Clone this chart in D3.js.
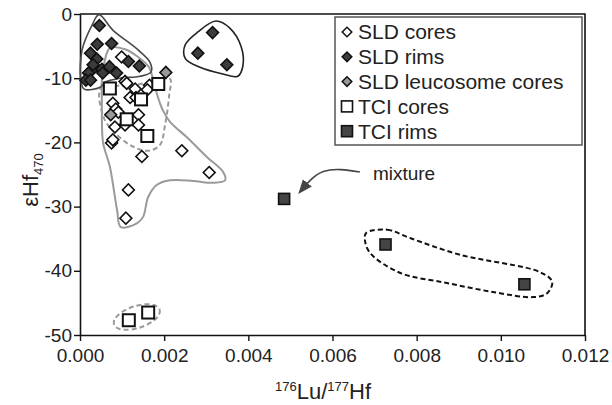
<!DOCTYPE html>
<html>
<head>
<meta charset="utf-8">
<script src="https://cdn.jsdelivr.net/npm/d3@7"></script>
<style>
  body { margin: 0; background: #fff; }
  svg text { font-family: "Liberation Sans", Arial, sans-serif; fill: #222; }
</style>
</head>
<body>
<svg id="chart" width="612" height="405"></svg>
<script>
// ---- data (x = 176Lu/177Hf, y = eHf470)
var xTicks = [0, 0.002, 0.004, 0.006, 0.008, 0.010, 0.012];
var yTicks = [0, -10, -20, -30, -40, -50];

var sldCores = [
  [0.00099, -6.7], [0.00107, -10.5], [0.00111, -10.8], [0.00131, -11.7], [0.00119, -13.0],
  [0.00078, -13.9], [0.00133, -13.0], [0.00165, -11.1], [0.0016, -11.8], [0.00085, -14.8],
  [0.00091, -15.3], [0.00139, -15.7], [0.00139, -17.3], [0.00083, -17.6], [0.00107, -17.3],
  [0.00075, -20.1], [0.00078, -19.6], [0.00147, -22.2], [0.00242, -21.3], [0.00307, -24.7],
  [0.00115, -27.4], [0.00109, -31.8]
];
var sldRims = [
  [0.00046, -1.8], [0.00041, -4.7], [0.00075, -4.6], [0.00025, -6.1], [0.0004, -7.0],
  [0.00115, -7.4], [0.00141, -8.1], [0.0003, -8.6], [0.00052, -8.6], [0.0007, -8.2],
  [0.00087, -9.2], [0.0002, -9.2], [0.00014, -10.3], [0.00025, -10.3], [0.00054, -9.2],
  [0.00031, -7.9], [0.00315, -2.9], [0.0028, -6.1], [0.00349, -7.9]
];
var sldLeuco = [[0.00204, -9.1], [0.00073, -15.7]];
var tciCores = [
  [0.00071, -11.6], [0.00145, -13.3], [0.00186, -10.9], [0.00111, -16.4], [0.0016, -19.0],
  [0.00116, -47.7], [0.00162, -46.5]
];
var tciRims = [[0.00485, -28.8], [0.00726, -35.9], [0.01056, -42.1]];

// hand drawn outlines, data units
var rimHull = [
  [0.00045, -0.1], [0.00078, -2.5], [0.00138, -5.6], [0.00166, -7.5], [0.00169, -9.0],
  [0.00143, -9.7], [0.00095, -10.0], [0.0006, -10.6], [0.00048, -11.4], [0.0001, -11.7],
  [0.00002, -10.3], [0.00005, -5.6], [0.00029, -1.7]
];
var farRimHull = [
  [0.00323, -1.1], [0.00356, -2.2], [0.00383, -5.1], [0.00387, -8.1], [0.00375, -9.7],
  [0.00337, -9.3], [0.00285, -8.3], [0.0025, -6.9], [0.0025, -4.8], [0.0028, -2.8]
];
var coreEnvelope = [
  [0.00071, -5.3], [0.00107, -5.5], [0.00138, -6.7], [0.00164, -8.3], [0.00178, -11.4],
  [0.0019, -13.9], [0.00197, -15.0], [0.00214, -16.8], [0.00254, -19.2], [0.00302, -22.3],
  [0.0034, -24.6], [0.00345, -25.9], [0.00316, -26.3], [0.00269, -26.0], [0.00214, -25.9],
  [0.00183, -26.6], [0.00162, -28.5], [0.0015, -31.6], [0.00135, -32.6], [0.00097, -33.2],
  [0.00088, -30.5], [0.00071, -23.8], [0.00055, -20.1], [0.00052, -16.5], [0.00052, -13.4],
  [0.00052, -10.3], [0.00059, -7.2]
];
var coreLoop = [
  [0.0005, -11.5], [0.00119, -11.2], [0.00185, -10.3], [0.00214, -10.1], [0.00212, -12.6],
  [0.00202, -17.3], [0.0019, -20.4], [0.00162, -21.3], [0.00124, -20.6], [0.00083, -18.5],
  [0.00057, -16.2]
];
var rimLoop = [
  [0.0068, -34.1], [0.0073, -33.6], [0.00784, -34.9], [0.00903, -37.5], [0.01093, -40.2],
  [0.01122, -41.7], [0.0111, -43.5], [0.01077, -44.1], [0.00981, -43.3], [0.00872, -41.9],
  [0.0076, -40.3], [0.00689, -37.2], [0.00677, -35.2]
];
var lowCoreCentre = [0.00135, -47.2];
var mixtureLabel = [0.00696, -25.9];
var mixtureArrow = [[0.00665, -24.6], [0.0058, -24.5], [0.00523, -27.7]];

var legendItems = ['SLD cores', 'SLD rims', 'SLD leucosome cores', 'TCI cores', 'TCI rims'];

// ---- scales
var svg = d3.select('#chart');
var x = d3.scaleLinear().domain([0, 0.012]).range([80, 585]);
var y = d3.scaleLinear().domain([-50, 0]).range([335, 14]);

var outline = d3.line()
  .x(function(d) { return x(d[0]); })
  .y(function(d) { return y(d[1]); })
  .curve(d3.curveCatmullRomClosed.alpha(0.5));

// ---- frame
svg.append('path')
  .attr('d', 'M' + x(0) + ',' + y(0) + 'H' + x(0.012) + 'V' + y(-50))
  .attr('fill', 'none').attr('stroke', '#111').attr('stroke-width', 1.6);

// ---- axes
var xAxis = svg.append('g')
  .attr('transform', 'translate(0,' + y(-50) + ')')
  .call(d3.axisBottom(x).tickValues(xTicks).tickFormat(d3.format('.3f')).tickSize(6).tickSizeOuter(0));
var yAxis = svg.append('g')
  .attr('transform', 'translate(' + x(0) + ',0)')
  .call(d3.axisLeft(y).tickValues(yTicks).tickFormat(function(d) { return String(d); }).tickSize(6).tickSizeOuter(0));

[xAxis, yAxis].forEach(function(g) {
  g.select('.domain').attr('stroke', '#111').attr('stroke-width', 1.6);
  g.selectAll('.tick line').attr('stroke', '#111').attr('stroke-width', 1.4);
  g.selectAll('.tick text').attr('font-size', 19).attr('fill', '#222')
    .style('font-family', '"Liberation Sans", Arial, sans-serif');
});
xAxis.selectAll('.tick text').attr('dy', '0.95em');
yAxis.selectAll('.tick text').attr('x', -8);

// ---- outlines
svg.append('path').datum(coreEnvelope).attr('d', outline)
  .attr('fill', 'none').attr('stroke', '#9a9a9a').attr('stroke-width', 2);
svg.append('path').datum(coreLoop).attr('d', outline)
  .attr('fill', 'none').attr('stroke', '#9a9a9a').attr('stroke-width', 2).attr('stroke-dasharray', '5,3');
svg.append('path').datum(rimHull).attr('d', outline)
  .attr('fill', 'none').attr('stroke', '#4a4a4a').attr('stroke-width', 1.6);
svg.append('path').datum(farRimHull).attr('d', outline)
  .attr('fill', 'none').attr('stroke', '#222').attr('stroke-width', 1.6);
svg.append('path').datum(rimLoop).attr('d', outline)
  .attr('fill', 'none').attr('stroke', '#111').attr('stroke-width', 2).attr('stroke-dasharray', '5,3');
svg.append('ellipse')
  .attr('transform', 'translate(' + x(lowCoreCentre[0]) + ',' + y(lowCoreCentre[1]) + ') rotate(-18)')
  .attr('rx', 24).attr('ry', 11)
  .attr('fill', 'none').attr('stroke', '#9a9a9a').attr('stroke-width', 2).attr('stroke-dasharray', '5,3');

// ---- points
function diamonds(data, fill, size) {
  svg.append('g').selectAll('path').data(data).join('path')
    .attr('d', d3.symbol(d3.symbolSquare, size || 70)())
    .attr('transform', function(d) { return 'translate(' + x(d[0]) + ',' + y(d[1]) + ') rotate(45)'; })
    .attr('fill', fill).attr('stroke', '#111').attr('stroke-width', 1.6);
}
function squares(data, fill, side, sw) {
  svg.append('g').selectAll('rect').data(data).join('rect')
    .attr('x', function(d) { return x(d[0]) - side / 2; })
    .attr('y', function(d) { return y(d[1]) - side / 2; })
    .attr('width', side).attr('height', side)
    .attr('fill', fill).attr('stroke', '#111').attr('stroke-width', sw);
}
diamonds(sldCores, '#fff');
squares(tciCores, '#fff', 12, 2);
diamonds(sldLeuco, '#999');
diamonds(sldRims, '#3c3c3c');
squares(tciRims, '#444', 11, 1.6);

// ---- mixture annotation
svg.append('text')
  .attr('x', x(mixtureLabel[0])).attr('y', y(mixtureLabel[1]))
  .attr('font-size', 19).text('mixture');
svg.append('defs').append('marker')
  .attr('id', 'head').attr('viewBox', '0 0 10 10').attr('refX', 8).attr('refY', 5)
  .attr('markerWidth', 9).attr('markerHeight', 9).attr('orient', 'auto')
  .append('path').attr('d', 'M0,1L10,5L0,9z').attr('fill', '#444');
svg.append('path').datum(mixtureArrow)
  .attr('d', d3.line().x(function(d) { return x(d[0]); }).y(function(d) { return y(d[1]); }).curve(d3.curveNatural))
  .attr('fill', 'none').attr('stroke', '#444').attr('stroke-width', 1.6)
  .attr('marker-end', 'url(#head)');

// ---- legend
var lg = svg.append('g').attr('transform', 'translate(335,17)');
lg.append('rect').attr('width', 247).attr('height', 128)
  .attr('fill', '#fff').attr('stroke', '#555').attr('stroke-width', 1.5);
var row = lg.selectAll('g.item').data(legendItems).join('g')
  .attr('class', 'item')
  .attr('transform', function(d, i) { return 'translate(12,' + (15 + i * 24.8) + ')'; });
row.append('text').attr('x', 11).attr('dy', '0.35em').attr('font-size', 21).text(function(d) { return d; });
var lgFill = ['#fff', '#3c3c3c', '#999', '#fff', '#444'];
row.each(function(d, i) {
  var g = d3.select(this);
  if (i < 3) {
    g.append('path').attr('d', d3.symbol(d3.symbolSquare, 46)()).attr('transform', 'rotate(45)')
      .attr('fill', lgFill[i]).attr('stroke', '#111').attr('stroke-width', 1.5);
  } else {
    g.append('rect').attr('x', -5.5).attr('y', -5.5).attr('width', 11).attr('height', 11)
      .attr('fill', lgFill[i]).attr('stroke', '#111').attr('stroke-width', 1.6);
  }
});

// ---- axis titles
var yt = svg.append('text')
  .attr('transform', 'translate(38,' + 180 + ') rotate(-90)')
  .attr('text-anchor', 'middle').attr('font-size', 22);
yt.append('tspan').text('\u03b5Hf');
yt.append('tspan').attr('font-size', 13).attr('dy', 5).text('470');

var xt = svg.append('text')
  .attr('x', 323).attr('y', 399).attr('text-anchor', 'middle').attr('font-size', 22);
xt.append('tspan').attr('font-size', 13).attr('dy', -8).text('176');
xt.append('tspan').attr('dy', 8).text('Lu/');
xt.append('tspan').attr('font-size', 13).attr('dy', -8).text('177');
xt.append('tspan').attr('dy', 8).text('Hf');
</script>
</body>
</html>
